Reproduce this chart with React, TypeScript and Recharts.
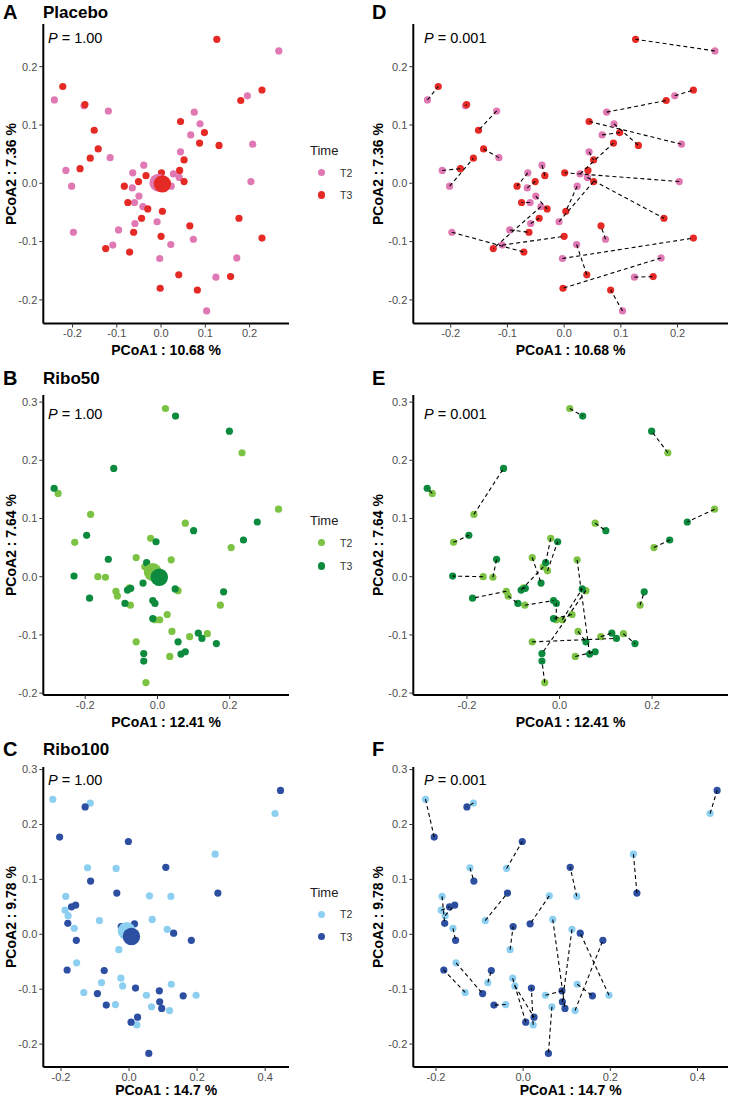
import React from 'react';
import { ScatterChart, Scatter, XAxis, YAxis } from 'recharts';

const FONT = '"Liberation Sans", Arial, Helvetica, sans-serif';

// ---------- Placebo (paired by subject: index i of T2 <-> index i of T3) ----------
const placeboT2X: (number | null)[] = [0.266, -0.241, -0.174, -0.119, -0.115, -0.215, -0.202, -0.064, -0.039, -0.065, -0.060, -0.050, -0.041, -0.096, -0.059, -0.198, -0.109, 0.044, 0.067, 0.088, 0.207, 0.075, 0.195, 0.028, 0.041, 0.023, -0.009, 0.203, 0.073, -0.003, 0.022, 0.171, 0.124, 0.103, null];
const placeboT2Y: (number | null)[] = [0.227, 0.143, 0.133, 0.124, 0.044, 0.022, -0.005, 0.018, 0.031, -0.008, -0.033, -0.022, -0.040, -0.080, -0.069, -0.084, -0.106, 0.054, 0.083, 0.102, 0.067, 0.122, 0.150, 0.016, 0.010, -0.005, -0.066, 0.003, -0.096, -0.129, -0.105, -0.128, -0.161, -0.219, null];
const placeboT3X: (number | null)[] = [0.126, -0.222, -0.172, -0.151, -0.142, -0.183, -0.160, -0.083, -0.034, -0.051, -0.075, -0.030, -0.125, -0.062, -0.044, -0.071, 0.000, 0.052, 0.098, 0.131, 0.044, 0.180, 0.228, 0.087, 0.176, 0.003, 0.052, 0.001, 0.065, 0.228, 0.040, -0.002, 0.157, 0.082, 0.042];
const placeboT3Y: (number | null)[] = [0.247, 0.166, 0.135, 0.091, 0.059, 0.025, 0.043, -0.005, 0.013, 0.003, -0.033, -0.044, -0.112, -0.084, -0.060, -0.118, -0.091, 0.040, 0.087, 0.065, 0.106, 0.142, 0.160, 0.069, -0.060, -0.048, 0.003, 0.018, -0.073, -0.094, -0.157, -0.180, -0.160, -0.183, 0.022];
const placeboCentroidT2 = { x: -0.006, y: 0.001 };
const placeboCentroidT3 = { x: 0.003, y: -0.001 };

// ---------- Ribo50 ----------
const ribo50T2X: (number | null)[] = [0.022, 0.234, -0.275, -0.185, 0.335, 0.077, -0.229, 0.204, -0.019, -0.026, -0.035, -0.059, -0.165, -0.144, -0.115, -0.111, -0.075, -0.078, -0.007, 0.027, 0.006, 0.038, 0.057, 0.034, -0.032, -0.059, 0.089, 0.138, 0.040, 0.174];
const ribo50T2Y: (number | null)[] = [0.289, 0.213, 0.143, 0.107, 0.116, 0.092, 0.059, 0.050, 0.066, 0.010, 0.017, 0.033, 0.000, -0.001, -0.025, -0.033, -0.049, -0.019, -0.074, -0.065, -0.074, 0.029, -0.024, -0.137, -0.182, -0.112, -0.103, -0.098, -0.094, -0.049];
const ribo50T3X: (number | null)[] = [0.050, 0.199, -0.286, -0.121, 0.276, 0.100, -0.196, 0.238, -0.030, -0.004, -0.083, -0.040, -0.231, -0.136, -0.188, -0.090, -0.013, -0.074, -0.007, -0.013, 0.049, 0.065, -0.038, 0.077, -0.038, 0.123, 0.113, 0.163, 0.057, 0.183];
const ribo50T3Y: (number | null)[] = [0.276, 0.250, 0.152, 0.186, 0.094, 0.079, 0.071, 0.063, 0.024, 0.060, -0.023, -0.011, 0.001, 0.030, -0.037, -0.046, -0.041, -0.020, -0.046, -0.072, -0.021, -0.133, -0.132, -0.129, -0.145, -0.106, -0.097, -0.115, -0.112, -0.026];
const ribo50CentroidT2 = { x: -0.013, y: 0.008 };
const ribo50CentroidT3 = { x: 0.005, y: -0.001 };

// ---------- Ribo100 ----------
const ribo100T2X: (number | null)[] = [-0.224, -0.114, 0.429, -0.038, -0.122, 0.123, 0.253, -0.186, -0.188, -0.179, -0.161, -0.087, 0.060, -0.030, 0.068, 0.112, 0.197, 0.119, 0.124, 0.051, 0.066, 0.023, -0.024, -0.019, -0.040, -0.081, -0.154, -0.133];
const ribo100T2Y: (number | null)[] = [0.246, 0.239, 0.220, 0.120, 0.121, 0.069, 0.146, 0.069, 0.044, 0.034, 0.011, 0.025, 0.070, -0.028, 0.027, 0.009, -0.111, -0.139, -0.091, -0.111, -0.132, -0.165, -0.080, -0.094, -0.128, -0.088, -0.052, -0.106];
const ribo100T3X: (number | null)[] = [-0.204, -0.129, 0.445, -0.002, -0.113, 0.108, 0.261, -0.180, -0.169, -0.157, -0.155, -0.036, 0.016, -0.023, 0.096, 0.090, 0.131, 0.183, 0.159, 0.089, 0.058, 0.019, 0.006, 0.025, -0.067, -0.073, -0.093, -0.182];
const ribo100T3Y: (number | null)[] = [0.177, 0.232, 0.262, 0.169, 0.097, 0.122, 0.075, 0.020, 0.050, 0.053, -0.011, 0.075, 0.019, 0.014, -0.135, -0.123, 0.002, -0.011, -0.112, -0.103, -0.217, -0.098, -0.160, -0.151, -0.129, -0.066, -0.108, -0.065];
const ribo100CentroidT2 = { x: -0.007, y: 0.006 };
const ribo100CentroidT3 = { x: 0.007, y: -0.004 };

// ---------- Labels / ticks ----------
const groupNames = ['Placebo', 'Ribo50', 'Ribo100'];
const leftLetters = ['A', 'B', 'C'];
const rightLetters = ['D', 'E', 'F'];
const xTitles = ['PCoA1 : 10.68 %', 'PCoA1 : 12.41 %', 'PCoA1 : 14.7 %'];
const yTitles = ['PCoA2 : 7.36 %', 'PCoA2 : 7.64 %', 'PCoA2 : 9.78 %'];
const leftPValues = ['1.00', '1.00', '1.00'];
const rightPValues = ['0.001', '0.001', '0.001'];
const timeLabels = ['T2', 'T3'];
const xTicksPlacebo = [-0.2, -0.1, 0, 0.1, 0.2];
const yTicksPlacebo = [-0.2, -0.1, 0, 0.1, 0.2];
const xTicksRibo50 = [-0.2, 0, 0.2];
const yTicksRibo50 = [-0.2, -0.1, 0, 0.1, 0.2, 0.3];
const xTicksRibo100 = [-0.2, 0, 0.2, 0.4];
const yTicksRibo100 = [-0.2, -0.1, 0, 0.1, 0.2, 0.3];

const COLORS = [
  ['#E079B3', '#E52A26'],
  ['#7CC243', '#0C8B3F'],
  ['#8DCFF1', '#2D4FA1'],
];

type Pt = { x: number; y: number };

function toPoints(xs: (number | null)[], ys: (number | null)[]): Pt[] {
  const out: Pt[] = [];
  xs.forEach((x, i) => {
    const y = ys[i];
    if (x != null && y != null) out.push({ x, y });
  });
  return out;
}

function toPairs(ax: (number | null)[], ay: (number | null)[], bx: (number | null)[], by: (number | null)[]): Pt[][] {
  const out: Pt[][] = [];
  ax.forEach((x, i) => {
    const y = ay[i], x2 = bx[i], y2 = by[i];
    if (x != null && y != null && x2 != null && y2 != null) out.push([{ x, y }, { x: x2, y: y2 }]);
  });
  return out;
}

const fmt = (v: number) => v.toFixed(1);

function Txt(props: { x: number; y: number; size: number; bold?: boolean; center?: boolean; rotate?: boolean; color?: string; children: React.ReactNode }) {
  const { x, y, size, bold, center, rotate, color, children } = props;
  let transform = center ? 'translate(-50%,-50%)' : 'translate(0,-50%)';
  if (rotate) transform = 'translate(-50%,-50%) rotate(-90deg)';
  return (
    <div
      style={{
        position: 'absolute',
        left: x,
        top: y,
        transform,
        fontSize: size,
        fontWeight: bold ? 700 : 400,
        color: color || '#000',
        whiteSpace: 'nowrap',
        lineHeight: 1,
        fontFamily: FONT,
      }}
    >
      {children}
    </div>
  );
}

type PanelProps = {
  chartLeft: number;
  plotLeft: number;
  plotRight: number;
  plotTop: number;
  plotBottom: number;
  xDomain: [number, number];
  yDomain: [number, number];
  xTicks: number[];
  yTicks: number[];
  t2: Pt[];
  t3: Pt[];
  colors: string[];
  centroids?: Pt[];
  pairs?: Pt[][];
};

function Panel(p: PanelProps) {
  const top = p.plotTop - 10;
  const width = p.plotRight - p.chartLeft + 4;
  const height = 10 + (p.plotBottom - p.plotTop) + 30;
  const dot = (color: string, r: number) => (s: any) => <circle cx={s.cx} cy={s.cy} r={r} fill={color} />;
  return (
    <div style={{ position: 'absolute', left: p.chartLeft, top }}>
      <ScatterChart width={width} height={height} margin={{ top: 10, right: 4, bottom: 0, left: 0 }}>
        <XAxis
          type="number"
          dataKey="x"
          domain={p.xDomain}
          ticks={p.xTicks}
          interval={0}
          allowDataOverflow
          tickFormatter={fmt}
          height={30}
          tickSize={4}
          tickMargin={2}
          axisLine={{ stroke: '#000', strokeWidth: 2 }}
          tickLine={{ stroke: '#333' }}
          tick={{ fill: '#4D4D4D', fontSize: 11, fontFamily: FONT }}
        />
        <YAxis
          type="number"
          dataKey="y"
          domain={p.yDomain}
          ticks={p.yTicks}
          interval={0}
          allowDataOverflow
          tickFormatter={fmt}
          width={p.plotLeft - p.chartLeft}
          tickSize={4}
          tickMargin={2}
          axisLine={{ stroke: '#000', strokeWidth: 2 }}
          tickLine={{ stroke: '#333' }}
          tick={{ fill: '#4D4D4D', fontSize: 11, fontFamily: FONT }}
        />
        <Scatter data={p.t2} shape={dot(p.colors[0], 3.6)} isAnimationActive={false} />
        <Scatter data={p.t3} shape={dot(p.colors[1], 3.6)} isAnimationActive={false} />
        {p.centroids ? (
          <Scatter data={[p.centroids[0]]} shape={dot(p.colors[0], 9)} isAnimationActive={false} />
        ) : null}
        {p.centroids ? (
          <Scatter data={[p.centroids[1]]} shape={dot(p.colors[1], 8.7)} isAnimationActive={false} />
        ) : null}
        {(p.pairs || []).map((pair, i) => (
          <Scatter
            key={'pair' + i}
            data={pair}
            line={{ stroke: '#000', strokeWidth: 1.1, strokeDasharray: '4 3' }}
            lineType="joint"
            shape={() => <g />}
            isAnimationActive={false}
          />
        ))}
      </ScatterChart>
    </div>
  );
}

type RowGeom = {
  plotTop: number;
  plotBottom: number;
  xDomain: [number, number];
  yDomain: [number, number];
  xTicks: number[];
  yTicks: number[];
  header: number;
  pY: number;
  legend: number[];
  xTitleY: number;
};

const rows: RowGeom[] = [
  { plotTop: 24, plotBottom: 323.5, xDomain: [-0.266, 0.289], yDomain: [-0.2405, 0.2732], xTicks: xTicksPlacebo, yTicks: yTicksPlacebo, header: 12, pY: 38, legend: [150, 172.7, 195], xTitleY: 350 },
  { plotTop: 395, plotBottom: 695, xDomain: [-0.316, 0.364], yDomain: [-0.2033, 0.3122], xTicks: xTicksRibo50, yTicks: yTicksRibo50, header: 378, pY: 414, legend: [520, 542.7, 566], xTitleY: 721.5 },
  { plotTop: 766.7, plotBottom: 1066.7, xDomain: [-0.252, 0.47], yDomain: [-0.2417, 0.3047], xTicks: xTicksRibo100, yTicks: yTicksRibo100, header: 749, pY: 780, legend: [891.7, 914.3, 936.7], xTitleY: 1089.5 },
];

const groupData = [
  {
    t2: toPoints(placeboT2X, placeboT2Y),
    t3: toPoints(placeboT3X, placeboT3Y),
    pairs: toPairs(placeboT2X, placeboT2Y, placeboT3X, placeboT3Y),
    centroids: [placeboCentroidT2, placeboCentroidT3],
  },
  {
    t2: toPoints(ribo50T2X, ribo50T2Y),
    t3: toPoints(ribo50T3X, ribo50T3Y),
    pairs: toPairs(ribo50T2X, ribo50T2Y, ribo50T3X, ribo50T3Y),
    centroids: [ribo50CentroidT2, ribo50CentroidT3],
  },
  {
    t2: toPoints(ribo100T2X, ribo100T2Y),
    t3: toPoints(ribo100T3X, ribo100T3Y),
    pairs: toPairs(ribo100T2X, ribo100T2Y, ribo100T3X, ribo100T3Y),
    centroids: [ribo100CentroidT2, ribo100CentroidT3],
  },
];

const LEFT = { chartLeft: 0, plotLeft: 43.3, plotRight: 289 };
const RIGHT = { chartLeft: 385, plotLeft: 413.3, plotRight: 728 };

export default function App() {
  return (
    <div style={{ position: 'absolute', left: 0, top: 0, width: 731, height: 1099, background: '#fff', fontFamily: FONT, overflow: 'hidden' }}>
      {rows.map((r, gi) => {
        const g = groupData[gi];
        const leftCenterX = (LEFT.plotLeft + LEFT.plotRight) / 2;
        const rightCenterX = (RIGHT.plotLeft + RIGHT.plotRight) / 2;
        const centerY = (r.plotTop + r.plotBottom) / 2;
        return (
          <React.Fragment key={gi}>
            <Panel
              {...LEFT}
              plotTop={r.plotTop}
              plotBottom={r.plotBottom}
              xDomain={r.xDomain}
              yDomain={r.yDomain}
              xTicks={r.xTicks}
              yTicks={r.yTicks}
              t2={g.t2}
              t3={g.t3}
              colors={COLORS[gi]}
              centroids={g.centroids}
            />
            <Panel
              {...RIGHT}
              plotTop={r.plotTop}
              plotBottom={r.plotBottom}
              xDomain={r.xDomain}
              yDomain={r.yDomain}
              xTicks={r.xTicks}
              yTicks={r.yTicks}
              t2={g.t2}
              t3={g.t3}
              colors={COLORS[gi]}
              pairs={g.pairs}
            />
            {/* headers */}
            <Txt x={3} y={r.header} size={20} bold>{leftLetters[gi]}</Txt>
            <Txt x={43} y={r.header} size={17} bold>{groupNames[gi]}</Txt>
            <Txt x={372} y={r.header} size={20} bold>{rightLetters[gi]}</Txt>
            {/* P values */}
            <Txt x={48} y={r.pY} size={14.5}><i>P</i> = {leftPValues[gi]}</Txt>
            <Txt x={424} y={r.pY} size={14.5}><i>P</i> = {rightPValues[gi]}</Txt>
            {/* axis titles */}
            <Txt x={leftCenterX} y={r.xTitleY} size={14} bold center>{xTitles[gi]}</Txt>
            <Txt x={rightCenterX} y={r.xTitleY} size={14} bold center>{xTitles[gi]}</Txt>
            <Txt x={11} y={centerY} size={14} bold rotate>{yTitles[gi]}</Txt>
            <Txt x={378} y={centerY} size={14} bold rotate>{yTitles[gi]}</Txt>
            {/* legend */}
            <Txt x={310} y={r.legend[0]} size={13} color="#1A1A1A">Time</Txt>
            {timeLabels.map((lab, k) => (
              <React.Fragment key={lab}>
                <div
                  style={{
                    position: 'absolute',
                    left: 321.7 - 3.6,
                    top: r.legend[k + 1] - 3.6,
                    width: 7.2,
                    height: 7.2,
                    borderRadius: '50%',
                    background: COLORS[gi][k],
                  }}
                />
                <Txt x={340} y={r.legend[k + 1]} size={10.5} color="#333">{lab}</Txt>
              </React.Fragment>
            ))}
          </React.Fragment>
        );
      })}
    </div>
  );
}
